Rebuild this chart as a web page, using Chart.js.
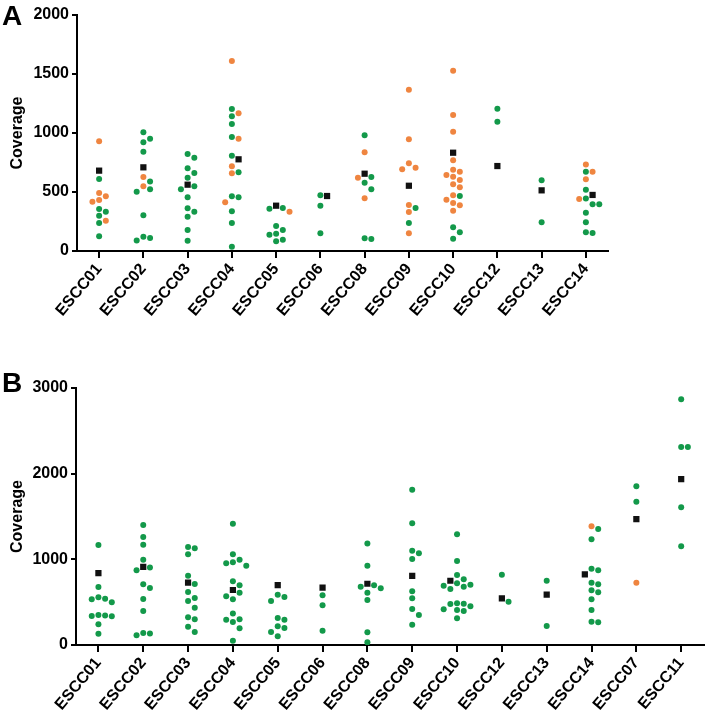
<!DOCTYPE html>
<html><head><meta charset="utf-8">
<script src="https://cdn.jsdelivr.net/npm/chart.js@4/dist/chart.umd.min.js"></script>
<style>
html,body{margin:0;padding:0;background:#fff;}
#wrap{position:relative;width:708px;height:714px;overflow:hidden;background:#fff;}
canvas{position:absolute;left:0;}
.lbl{position:absolute;left:2px;font:bold 28px "Liberation Sans",Arial,sans-serif;line-height:28px;color:#000;}
</style></head><body>
<div id="wrap">
<canvas id="cA" width="708" height="335" style="top:0px"></canvas>
<canvas id="cB" width="708" height="379" style="top:335px"></canvas>
<div class="lbl" style="top:2px">A</div>
<div class="lbl" style="top:369px">B</div>
</div>
<script>
// ---------- Panel A data ----------
const categoriesA = ['ESCC01','ESCC02','ESCC03','ESCC04','ESCC05','ESCC06','ESCC08','ESCC09','ESCC10','ESCC12','ESCC13','ESCC14'];
const greenA = [
  [610, 356, 333, 299, 237, 124],
  [1006, 952, 921, 842, 588, 523, 503, 302, 121, 110, 90],
  [822, 791, 701, 661, 621, 548, 523, 455, 362, 333, 291, 178, 87],
  [1203, 1141, 1076, 966, 808, 667, 463, 455, 336, 237, 37],
  [364, 359, 212, 178, 147, 138, 96, 82],
  [472, 384, 150],
  [980, 627, 579, 523, 107, 102],
  [364, 237],
  [466, 201, 158, 104],
  [1206, 1096],
  [599, 243],
  [672, 520, 444, 396, 396, 325, 243, 158, 153]
];
const orangeA = [
  [930, 492, 463, 432, 418, 257],
  [627, 548],
  [],
  [1610, 1167, 952, 718, 658, 413],
  [332],
  [],
  [836, 621, 447],
  [1367, 946, 743, 706, 692, 390, 331, 150],
  [1528, 1153, 1011, 769, 689, 672, 644, 630, 602, 565, 540, 472, 435, 407, 387, 342],
  [],
  [],
  [732, 672, 607, 441]
];
const markerA = [681, 709, 562, 777, 384, 466, 655, 553, 833, 720, 514, 475];
const yTicksA = {max: 2000, step: 500};

// ---------- Panel B data ----------
const categoriesB = ['ESCC01','ESCC02','ESCC03','ESCC04','ESCC05','ESCC06','ESCC08','ESCC09','ESCC10','ESCC12','ESCC13','ESCC14','ESCC07','ESCC11'];
const greenB = [
  [1167, 677, 557, 540, 533, 498, 350, 345, 338, 335, 241, 132],
  [1400, 1260, 1170, 996, 905, 873, 710, 665, 537, 397, 140, 134, 115],
  [1144, 1128, 1058, 809, 712, 619, 548, 513, 436, 323, 300, 214, 152],
  [1415, 1058, 995, 965, 953, 925, 745, 697, 610, 570, 535, 367, 300, 295, 268, 195, 50],
  [587, 560, 513, 315, 295, 218, 198, 152, 101],
  [580, 463, 167],
  [1185, 925, 697, 681, 662, 610, 525, 148, 31],
  [1812, 1420, 1100, 1070, 1005, 627, 545, 420, 350, 235],
  [1292, 980, 817, 767, 720, 704, 692, 681, 653, 487, 482, 478, 451, 416, 408, 397, 311],
  [820, 505],
  [750, 222],
  [1354, 1233, 890, 872, 727, 708, 638, 615, 533, 408, 272, 265],
  [1852, 1672],
  [2870, 2310, 2310, 1607, 1152]
];
const orangeB = [[],[],[],[],[],[],[],[],[],[],[],[1385],[727],[]];
const markerB = [840, 912, 727, 642, 700, 669, 715, 808, 750, 545, 587, 825, 1470, 1937];
const yTicksB = {max: 3000, step: 1000};

const FONT = '"Liberation Sans", Arial, Helvetica, sans-serif';
const GREEN = '#13994a';
const ORANGE = '#ef8540';
const BLACK = '#111111';

function makeChart(id, cats, yt, pad, yW, xH) {
  return new Chart(document.getElementById(id), {
    type: 'scatter',
    data: { datasets: [
      {data: [], backgroundColor: GREEN, borderWidth: 0, pointRadius: 3, pointStyle: 'circle'},
      {data: [], backgroundColor: ORANGE, borderWidth: 0, pointRadius: 3, pointStyle: 'circle'},
      {data: [], backgroundColor: BLACK, borderWidth: 0, pointRadius: 4.4, pointStyle: 'rect'}
    ]},
    options: {
      responsive: false, animation: false, events: [],
      layout: {padding: pad},
      plugins: {legend: {display: false}, tooltip: {enabled: false}},
      scales: {
        x: {
          type: 'linear', min: -0.5, max: cats.length - 0.5,
          afterBuildTicks: s => { s.ticks = cats.map((c, i) => ({value: i})); },
          afterFit: s => { s.height = xH; },
          grid: {drawOnChartArea: false, drawTicks: true, tickLength: 7, color: '#000', lineWidth: 2},
          border: {color: '#000', width: 2},
          ticks: {autoSkip: false, minRotation: 50, maxRotation: 50, color: '#000', padding: 2,
                  font: {family: FONT, size: 16, weight: 'bold'},
                  callback: v => cats[v]}
        },
        y: {
          min: 0, max: yt.max,
          afterFit: s => { s.width = yW; },
          ticks: {stepSize: yt.step, color: '#000', padding: 3, font: {family: FONT, size: 16, weight: 'bold'},
                  callback: v => String(v)},
          grid: {drawOnChartArea: false, drawTicks: true, tickLength: 5, color: '#000', lineWidth: 2},
          border: {color: '#000', width: 2},
          title: {display: true, text: 'Coverage', color: '#000', padding: {top: 8, bottom: 4},
                  font: {family: FONT, size: 16, weight: 'bold'}}
        }
      }
    }
  });
}

// Arrange the dots of each column side by side where they would overlap (dot-plot layout)
function swarm(chart, cats, greens, oranges, markers) {
  const xs = chart.scales.x, ys = chart.scales.y;
  const pxPerCat = Math.abs(xs.getPixelForValue(1) - xs.getPixelForValue(0));
  const pxPerUnit = Math.abs(ys.getPixelForValue(0) - ys.getPixelForValue(1000)) / 1000;
  const DOT = 6.7;
  const slotW = DOT / pxPerCat, minGap = DOT / pxPerUnit;
  const g = [], o = [], m = [];
  const order = [0, 1, -1, 2, -2, 3, -3];
  cats.forEach((c, i) => {
    const pts = [];
    greens[i].forEach(v => pts.push({v, arr: g}));
    oranges[i].forEach(v => pts.push({v, arr: o}));
    pts.push({v: markers[i], arr: m});
    pts.sort((a, b) => b.v - a.v);
    const placed = [];
    pts.forEach(p => {
      const slot = order.find(s => placed.every(q => q.s !== s || Math.abs(q.v - p.v) >= minGap));
      placed.push({s: slot, v: p.v});
      p.arr.push({x: i + slot * slotW, y: p.v});
    });
  });
  chart.data.datasets[0].data = g;
  chart.data.datasets[1].data = o;
  chart.data.datasets[2].data = m;
  chart.update('none');
}

const chartA = makeChart('cA', categoriesA, yTicksA, {top: 15, right: 100, left: 0, bottom: 0}, 77, 84);
swarm(chartA, categoriesA, greenA, orangeA, markerA);
const chartB = makeChart('cB', categoriesB, yTicksB, {top: 53, right: 3, left: 0, bottom: 0}, 76, 69);
swarm(chartB, categoriesB, greenB, orangeB, markerB);
</script>
</body></html>
